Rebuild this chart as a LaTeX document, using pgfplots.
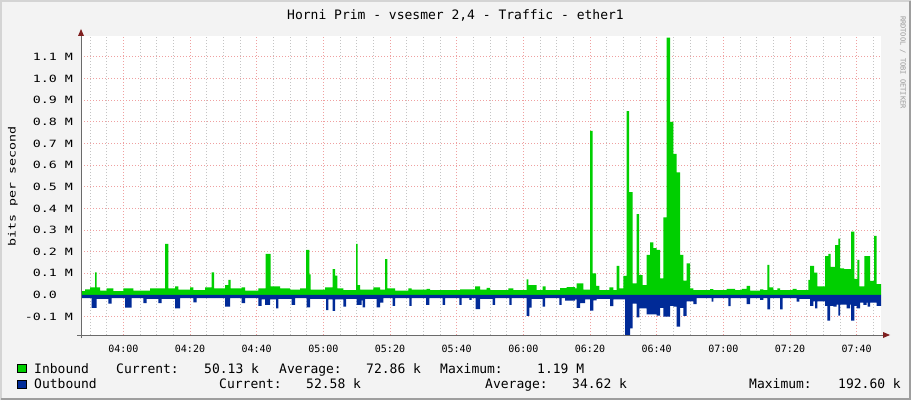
\documentclass[border=0pt]{standalone}
\usepackage{pgfplots}
\pgfplotsset{compat=1.18}
\usepackage{fontspec}
\setmainfont{DejaVu Sans Mono}
\newfontfamily\ytfont[FakeStretch=1.33]{DejaVu Sans Mono}
\usetikzlibrary{arrows.meta}
\definecolor{bgc}{HTML}{F3F3F3}
\definecolor{inb}{HTML}{00CF00}
\definecolor{outb}{HTML}{002A97}
\definecolor{gridc}{HTML}{C4C4C4}
\definecolor{mgridc}{HTML}{EFA0A0}
\definecolor{arrowc}{HTML}{7F1F1F}
\definecolor{axisc}{HTML}{6A6A6A}
\definecolor{shadea}{HTML}{D4D4D4}
\definecolor{shadeb}{HTML}{9E9E9E}
\begin{document}
\begin{tikzpicture}[x=1pt,y=1pt]
\path[use as bounding box, fill=bgc] (0,0) rectangle (911,400);
\draw[shadea, line width=2pt] (1,0) -- (1,399) -- (911,399);
\draw[shadeb, line width=2pt] (1,1) -- (910,1) -- (910,399);
\begin{axis}[at={(81pt,65pt)}, anchor=south west, width=800pt, height=299pt, scale only axis,
 xmin=-12.7, xmax=227.3, ymin=-0.185, ymax=1.197,
 axis line style={draw=none}, axis background/.style={fill=white},
 xtick={0,20,40,60,80,100,120,140,160,180,200,220},
 xticklabels={04:00,04:20,04:40,05:00,05:20,05:40,06:00,06:20,06:40,07:00,07:20,07:40},
 minor xtick={-10,-5,5,10,15,25,30,35,45,50,55,65,70,75,85,90,95,105,110,115,125,130,135,145,150,155,165,170,175,185,190,195,205,210,215,225},
 ytick={-0.1,0,0.1,0.2,0.3,0.4,0.5,0.6,0.7,0.8,0.9,1.0,1.1},
 yticklabels={-0.1 M,0.0\phantom{ M},0.1 M,0.2 M,0.3 M,0.4 M,0.5 M,0.6 M,0.7 M,0.8 M,0.9 M,1.0 M,1.1 M},
 grid=both,
 major grid style={mgridc, dash pattern=on 1pt off 2pt, line width=1pt},
 minor grid style={gridc, dash pattern=on 1pt off 2pt, line width=1pt},
 major tick length=0pt, minor tick length=0pt,
 xticklabel style={font=\fontsize{10}{12}\selectfont, anchor=base, inner sep=0pt, yshift=-17pt},
 yticklabel style={font=\ytfont\fontsize{10}{12}\selectfont, anchor=east, inner sep=0pt, xshift=-8pt},
]
\addplot[const plot, fill=inb, draw=none] coordinates {
(-12.7,0.018) (-11.5,0.026) (-10,0.035) (-8.5,0.105) (-8,0.035) (-7,0.02) (-5,0.03) (-3,0.018)
(0,0.03) (3,0.02) (8,0.03) (12.5,0.236) (13.5,0.03) (15.5,0.04) (16.5,0.025) (20,0.035) (21,0.022)
(24.5,0.035) (26.5,0.105) (27.2,0.03) (30.5,0.045) (31.5,0.07) (32.2,0.03) (35.5,0.035) (36.5,0.02)
(40.5,0.03) (42.7,0.19) (44.2,0.04) (47,0.03) (50,0.025) (53,0.03) (54.8,0.208) (55.8,0.095)
(56.2,0.025) (60.5,0.035) (62.8,0.12) (63.5,0.09) (64.2,0.03) (66,0.022) (69.8,0.236) (70.3,0.045)
(71,0.025) (75,0.035) (77,0.025) (78.5,0.166) (79.2,0.03) (81.5,0.02) (85.5,0.03) (86.5,0.025)
(91,0.028) (92,0.022) (101,0.026) (105.5,0.04) (107,0.025) (109,0.033) (110,0.022) (115.5,0.03)
(117,0.022) (121,0.072) (121.5,0.046) (124,0.022) (125.8,0.04) (126.7,0.022) (131,0.032) (133,0.036)
(135.5,0.03) (136,0.054) (138,0.025) (140,0.758) (140.8,0.1) (141.8,0.042) (142.8,0.023) (145.8,0.035)
(147,0.023) (148,0.134) (148.8,0.03) (150,0.088) (151,0.85) (151.7,0.475) (152.8,0.054) (154,0.374)
(154.7,0.092) (155.8,0.046) (157,0.185) (158,0.243) (159,0.216) (160,0.208) (161,0.077) (162,0.359)
(163,1.19) (164,0.80) (165,0.652) (166,0.567) (167,0.185) (168,0.066) (169,0.146) (170,0.03)
(171,0.023) (176,0.027) (177,0.022) (181,0.028) (183.5,0.022) (185.5,0.028) (187,0.042) (188,0.02)
(191,0.026) (192,0.022) (193.2,0.139) (193.8,0.035) (195,0.022) (196.2,0.03) (197,0.022) (200.8,0.028)
(202,0.022) (205.5,0.07) (206,0.134) (207.2,0.103) (208.2,0.04) (210.5,0.18) (211.5,0.19) (212.2,0.13)
(213.5,0.23) (214.5,0.26) (215,0.123) (216.2,0.12) (218.3,0.293) (219.3,0.074) (220.2,0.162)
(220.8,0.04) (222.3,0.18) (224,0.065) (225.2,0.273) (226,0.05) (227.3,0.05)
} \closedcycle;
\addplot[const plot, fill=outb, draw=none] coordinates {
(-12.7,-0.015) (-9.5,-0.06) (-8,-0.018) (-4.5,-0.04) (-3.5,-0.015) (0.5,-0.058) (2.5,-0.015)
(6,-0.038) (7,-0.018) (10.5,-0.038) (11.5,-0.018) (15.5,-0.062) (17,-0.015) (21,-0.034) (22,-0.015)
(30.5,-0.054) (32,-0.015) (35.5,-0.038) (36.5,-0.015) (40.5,-0.05) (41.5,-0.02) (42.5,-0.046)
(44,-0.02) (45.8,-0.062) (46.5,-0.018) (50.5,-0.046) (51.5,-0.015) (55,-0.057) (56,-0.018)
(60.8,-0.07) (61.5,-0.02) (62.8,-0.073) (63.5,-0.02) (66,-0.054) (66.8,-0.018) (70,-0.046)
(71.5,-0.025) (71.8,-0.057) (72.5,-0.018) (76,-0.057) (77,-0.035) (78,-0.015) (80.8,-0.05)
(81.5,-0.015) (85.8,-0.05) (86.5,-0.015) (90.8,-0.046) (91.8,-0.015) (95.8,-0.046) (96.5,-0.015)
(100.8,-0.046) (101.5,-0.015) (103.8,-0.023) (104.5,-0.015) (105.7,-0.065) (107,-0.018)
(110.8,-0.046) (111.5,-0.015) (115.8,-0.046) (116.5,-0.015) (121,-0.097) (121.8,-0.058)
(122.5,-0.018) (125.8,-0.054) (126.5,-0.015) (130.8,-0.046) (131.5,-0.015) (132.5,-0.026)
(135.5,-0.02) (136,-0.06) (137,-0.038) (138.5,-0.02) (140,-0.072) (141,-0.025) (142,-0.018)
(146,-0.051) (147,-0.02) (150.5,-0.1926) (152,-0.154) (152.8,-0.04) (154,-0.103) (154.8,-0.062)
(157,-0.09) (160,-0.095) (161,-0.06) (162,-0.1) (164,-0.05) (165,-0.054) (166,-0.146) (167,-0.06)
(168,-0.097) (169,-0.03) (171,-0.042) (172,-0.015) (176.5,-0.031) (177,-0.015) (181.5,-0.051)
(182.2,-0.015) (187,-0.042) (188,-0.015) (191,-0.023) (192,-0.015) (193.2,-0.066) (194,-0.015)
(197,-0.066) (197.8,-0.015) (202,-0.031) (202.8,-0.018) (206,-0.05) (207,-0.03) (207.5,-0.062)
(208.2,-0.03) (210.5,-0.05) (211.2,-0.118) (212,-0.05) (213,-0.054) (214,-0.045) (214.5,-0.095)
(215,-0.045) (217,-0.062) (218,-0.045) (218.3,-0.118) (219.3,-0.05) (220,-0.062) (221,-0.035)
(222,-0.046) (223,-0.035) (223.3,-0.054) (224,-0.035) (226,-0.05) (227.3,-0.05)
} \closedcycle;
\end{axis}
% axes
\draw[axisc, line width=1pt] (81,62) -- (81,365);
\fill[arrowc] (78,364) -- (84,364) -- (81,371) -- cycle;
\draw[axisc, line width=1pt] (77,65) -- (884,65);
\fill[arrowc] (883,62) -- (883,68) -- (890,65) -- cycle;
% title and labels
\node[font=\fontsize{13}{15}\selectfont, anchor=base, inner sep=0pt] at (455.5,380) {Horni Prim - vsesmer 2,4 - Traffic - ether1};
\node[font=\ytfont\fontsize{10}{12}\selectfont, rotate=90, anchor=base, inner sep=0pt] at (15.5,213.5) {bits per second};
\node[font=\fontsize{7}{8}\selectfont, text=black!40, rotate=-90, inner sep=0pt] at (903,337.5) {RRDTOOL / TOBI OETIKER};
% legend
\filldraw[fill=inb, draw=black, line width=0.8pt] (17.5,27.5) rectangle (26,36);
\filldraw[fill=outb, draw=black, line width=0.8pt] (17.5,11.5) rectangle (26,20);
\begin{scope}[every node/.style={font=\fontsize{13}{15}\selectfont, anchor=base west, inner sep=0pt}]
\node at (34,27) {Inbound};
\node at (116,27) {Current:};
\node at (204,27) {50.13 k};
\node at (279,27) {Average:};
\node at (366,27) {72.86 k};
\node at (440,27) {Maximum:};
\node at (537,27) {1.19 M};
\node at (34,11.3) {Outbound};
\node at (219,11.3) {Current:};
\node at (306,11.3) {52.58 k};
\node at (485,11.3) {Average:};
\node at (572,11.3) {34.62 k};
\node at (749,11.3) {Maximum:};
\node at (838,11.3) {192.60 k};
\end{scope}
\end{tikzpicture}
\end{document}
